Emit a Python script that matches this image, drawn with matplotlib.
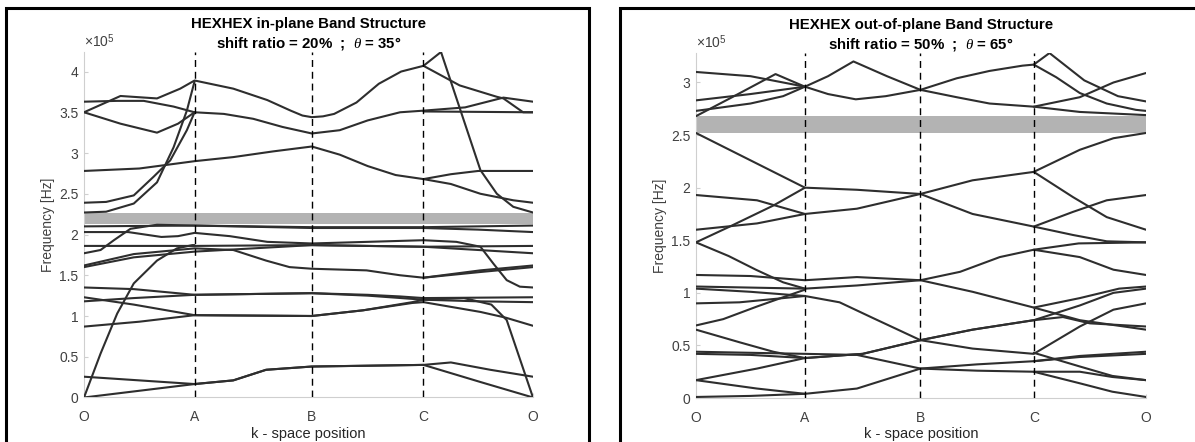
import numpy as np
import matplotlib.pyplot as plt
from matplotlib.patches import Rectangle

plt.rcParams['font.family'] = ['Liberation Sans', 'DejaVu Sans']
plt.rcParams['mathtext.fontset'] = 'custom'
plt.rcParams['mathtext.rm'] = 'Liberation Sans'
plt.rcParams['mathtext.it'] = 'Liberation Serif:italic'

# k-path: O -> A -> B -> C -> O  (tick positions along the path)
path_labels = ['O', 'A', 'B', 'C', 'O']
left_tick_k = [0, 1, 2.06, 3.07, 4.06]
right_tick_k = [0, 1, 2.06, 3.10, 4.13]

# band gaps (x 1e5 Hz)
left_gap = (2.13, 2.26)
right_gap = (2.52, 2.68)

# bands: (segment position 0..4, frequency x 1e5 Hz)
left_upper = [
    ([0, 0.33, 0.66, 0.87, 1.0, 1.33, 1.62, 1.82, 1.92, 2.0, 2.1, 2.2, 2.4, 2.6, 2.8, 3.0, 3.16, 3.52, 3.67, 3.82, 4.0],
     [3.50, 3.70, 3.67, 3.79, 3.89, 3.79, 3.65, 3.52, 3.46, 3.44, 3.45, 3.48, 3.62, 3.85, 4.00, 4.07, 4.24, 2.79, 2.50, 2.34, 2.27]),
    ([0, 0.33, 0.66, 0.85, 1.0, 1.25, 1.5, 1.75, 2.0, 2.25, 2.5, 2.79, 3.0, 3.38, 3.73, 4.0],
     [3.50, 3.36, 3.25, 3.36, 3.50, 3.48, 3.42, 3.32, 3.24, 3.28, 3.40, 3.50, 3.52, 3.56, 3.68, 3.63]),
    ([0, 0.3, 0.54, 0.81, 1.0], [3.63, 3.64, 3.64, 3.57, 3.50]),
    ([0, 0.5, 1.0, 1.33, 1.67, 2.0, 2.25, 2.5, 2.75, 3.0, 3.25, 3.5, 4.0],
     [2.78, 2.81, 2.90, 2.95, 3.02, 3.08, 2.98, 2.84, 2.73, 2.68, 2.74, 2.78, 2.78]),
    ([0, 0.2, 0.45, 0.63, 0.78, 0.93, 1.0], [2.39, 2.40, 2.48, 2.71, 2.91, 3.28, 3.50]),
    ([0, 0.2, 0.45, 0.66, 0.81, 0.93, 1.0], [2.27, 2.28, 2.38, 2.64, 3.07, 3.52, 3.88]),
    ([3.0, 3.33, 3.67, 3.73, 3.91, 4.0], [4.07, 3.83, 3.69, 3.67, 3.50, 3.50]),
    ([3.0, 3.25, 3.52, 3.82, 4.0], [2.68, 2.62, 2.50, 2.42, 2.39]),
    ([3.0, 4.0], [3.51, 3.50]),
]

left_lower = [
    ([0, 1, 2, 3, 4], [2.10, 2.11, 2.09, 2.09, 2.11]),
    ([0, 0.4, 0.7, 0.85, 1.0, 1.3, 1.62, 2.0, 2.5, 3.0, 3.3, 3.52, 3.64, 3.76, 3.88, 4.0],
     [2.03, 2.03, 1.97, 1.98, 2.02, 1.98, 1.91, 1.89, 1.91, 1.93, 1.91, 1.85, 1.64, 1.44, 1.36, 1.35]),
    ([0, 0.15, 0.27, 0.42, 0.66, 1.0, 2.0, 3.0, 3.5, 4.0],
     [1.77, 1.81, 1.93, 2.07, 2.12, 2.11, 2.08, 2.08, 2.06, 2.03]),
    ([0, 1, 2, 3, 4], [1.86, 1.86, 1.87, 1.85, 1.86]),
    ([0, 0.45, 1.0, 1.33, 1.61, 1.81, 2.0, 2.49, 2.79, 3.0, 3.52, 4.0],
     [1.62, 1.76, 1.83, 1.81, 1.68, 1.60, 1.58, 1.56, 1.50, 1.47, 1.56, 1.62]),
    ([0, 0.45, 1.0, 1.5, 2.0, 3.0, 3.5, 4.0], [1.60, 1.72, 1.79, 1.83, 1.87, 1.85, 1.81, 1.77]),
    ([3.0, 3.52, 4.0], [1.47, 1.54, 1.60]),
    ([0, 0.45, 1.0, 1.5, 2.0, 2.5, 2.79, 3.0, 4.0], [1.35, 1.33, 1.26, 1.27, 1.28, 1.26, 1.24, 1.22, 1.23]),
    ([0, 0.45, 1.0, 2.0, 2.5, 3.0, 3.5, 4.0], [1.18, 1.22, 1.26, 1.28, 1.25, 1.20, 1.18, 1.17]),
    ([0, 0.45, 1.0, 2.0, 2.46, 2.9, 3.0, 3.52, 3.75, 4.0],
     [1.23, 1.14, 1.01, 1.00, 1.07, 1.16, 1.17, 1.05, 0.98, 0.88]),
    ([0, 0.5, 1.0, 2.0, 2.46, 2.9, 3.0, 3.37, 3.62, 3.76, 4.0],
     [0.87, 0.93, 1.01, 1.00, 1.07, 1.17, 1.20, 1.22, 1.14, 0.95, 0.0]),
    ([0, 0.5, 1.0, 1.33, 1.61, 2.0, 2.5, 3.0, 3.25, 3.61, 4.0],
     [0.255, 0.21, 0.165, 0.21, 0.34, 0.38, 0.39, 0.40, 0.43, 0.34, 0.255]),
    ([0, 1.0, 1.33, 1.61, 2.0, 3.0, 3.52, 4.0], [0.0, 0.165, 0.21, 0.34, 0.38, 0.40, 0.19, 0.0]),
    ([0, 0.15, 0.30, 0.45, 0.66, 0.84, 0.98, 1.0], [0.0, 0.54, 1.03, 1.40, 1.68, 1.83, 1.87, 1.87]),
]

right_upper = [
    ([0, 0.5, 1.0, 1.2, 1.42, 1.71, 2.0, 2.32, 2.61, 2.9, 3.0, 3.14, 3.45, 3.75, 4.0],
     [3.10, 3.06, 2.96, 3.06, 3.20, 3.06, 2.93, 3.04, 3.11, 3.16, 3.17, 3.28, 3.02, 2.87, 2.82]),
    ([0, 0.5, 1.0, 1.2, 1.44, 1.7, 2.0, 2.32, 2.61, 3.0, 3.41, 3.71, 4.0],
     [2.83, 2.89, 2.96, 2.89, 2.84, 2.87, 2.93, 2.86, 2.80, 2.77, 2.86, 3.00, 3.09]),
    ([0, 0.35, 0.73, 1.0], [2.68, 2.87, 3.08, 2.96]),
    ([0, 0.5, 0.8, 1.0], [2.73, 2.80, 2.87, 2.96]),
    ([3.0, 3.2, 3.41, 3.65, 3.91, 4.0], [3.17, 3.05, 2.90, 2.80, 2.74, 2.73]),
    ([3.0, 3.41, 4.0], [2.77, 2.72, 2.69]),
]

right_lower = [
    ([0, 0.5, 1.0, 1.45, 2.0, 2.46, 3.0, 3.41, 3.71, 4.0],
     [2.52, 2.26, 2.00, 1.98, 1.94, 2.07, 2.15, 2.36, 2.47, 2.52]),
    ([0, 0.56, 1.0, 1.45, 2.0, 2.46, 3.0, 3.35, 3.65, 4.0],
     [1.93, 1.88, 1.75, 1.80, 1.94, 1.75, 1.63, 1.55, 1.49, 1.48]),
    ([0, 0.31, 0.71, 1.0], [1.48, 1.63, 1.83, 2.00]),
    ([0, 0.56, 1.0], [1.60, 1.66, 1.75]),
    ([0, 0.3, 0.55, 0.8, 1.0, 1.45, 2.0, 2.35, 2.7, 3.0, 3.4, 4.0],
     [1.48, 1.35, 1.22, 1.10, 1.04, 1.07, 1.12, 1.20, 1.34, 1.41, 1.47, 1.48]),
    ([0, 0.5, 1.0, 1.45, 2.0, 2.46, 3.0, 3.41, 3.76, 4.0],
     [1.17, 1.16, 1.12, 1.15, 1.12, 1.01, 0.86, 0.95, 1.04, 1.06]),
    ([0, 0.5, 1.0, 1.3, 1.59, 2.0, 2.46, 3.0, 3.41, 3.71, 4.0],
     [1.04, 1.01, 0.97, 0.91, 0.76, 0.55, 0.65, 0.74, 0.88, 1.00, 1.04]),
    ([0, 0.5, 1.0], [1.06, 1.05, 1.04]),
    ([0, 0.4, 0.8, 1.0], [0.90, 0.91, 0.95, 0.97]),
    ([0, 0.25, 0.56, 0.86, 1.0], [0.69, 0.75, 0.87, 0.98, 1.03]),
    ([0, 0.4, 0.71, 1.0, 1.5, 2.0, 2.46, 3.0, 3.41, 3.71, 4.0],
     [0.65, 0.53, 0.44, 0.38, 0.42, 0.55, 0.47, 0.42, 0.68, 0.84, 0.90]),
    ([0, 0.5, 1.0, 1.45, 2.0, 2.5, 3.0, 3.41, 4.0], [0.44, 0.43, 0.42, 0.41, 0.28, 0.32, 0.35, 0.40, 0.44]),
    ([0, 0.5, 1.0], [0.42, 0.41, 0.38]),
    ([0, 0.56, 1.0, 1.5, 2.0, 2.46, 3.0, 3.26, 3.5, 4.0],
     [0.17, 0.28, 0.38, 0.42, 0.55, 0.65, 0.74, 0.77, 0.71, 0.68]),
    ([0, 0.56, 1.0, 1.45, 2.0, 2.5, 3.0, 3.41, 3.7, 4.0],
     [0.17, 0.09, 0.04, 0.09, 0.28, 0.26, 0.25, 0.25, 0.20, 0.17]),
    ([0, 0.5, 1.0], [0.01, 0.02, 0.04]),
    ([3.0, 3.35, 3.65, 4.0], [2.15, 1.91, 1.72, 1.60]),
    ([3.0, 3.35, 3.65, 4.0], [1.63, 1.77, 1.88, 1.93]),
    ([3.0, 3.41, 3.71, 4.0], [1.41, 1.34, 1.22, 1.17]),
    ([3.0, 3.41, 4.0], [0.86, 0.74, 0.65]),
    ([3.0, 3.41, 4.0], [0.35, 0.39, 0.42]),
    ([3.0, 3.41, 3.7, 4.0], [0.43, 0.30, 0.21, 0.17]),
    ([3.0, 3.41, 3.7, 4.0], [0.25, 0.14, 0.06, 0.01]),
]

left_yticks = [0, 0.5, 1, 1.5, 2, 2.5, 3, 3.5, 4]
right_yticks = [0, 0.5, 1, 1.5, 2, 2.5, 3]
left_title = 'HEXHEX in-plane Band Structure\nshift ratio = 20%  ;  $\\theta$ = 35°'
right_title = 'HEXHEX out-of-plane Band Structure\nshift ratio = 50%  ;  $\\theta$ = 65°'


def draw_panel(ax, tick_k, bands, gap, ymax, yticks, title):
    seg = np.arange(len(tick_k))
    ax.axhspan(gap[0], gap[1], color='#b3b3b3', lw=0, zorder=1)
    for s, f in bands:
        ax.plot(np.interp(s, seg, tick_k), f, color='#2e2e2e', lw=1.5,
                solid_joinstyle='round', solid_capstyle='round', zorder=3)
    for k in tick_k[1:-1]:
        ax.axvline(k, color='black', lw=1.0, ls=(0, (5, 3.5)), zorder=4)
    ax.set_xlim(tick_k[0], tick_k[-1])
    ax.set_ylim(0, ymax)
    ax.set_xticks(tick_k)
    ax.set_xticklabels(path_labels)
    ax.set_yticks(yticks)
    ax.set_yticklabels([('%g' % v) for v in yticks])
    for side in ['top', 'right']:
        ax.spines[side].set_visible(False)
    for side in ['left', 'bottom']:
        ax.spines[side].set_color('#cfcfcf')
        ax.spines[side].set_linewidth(0.8)
    ax.tick_params(axis='both', direction='in', length=3, color='#cfcfcf',
                   labelcolor='#404040', labelsize=10)
    ax.tick_params(axis='x', pad=9)
    ax.tick_params(axis='y', pad=4)
    ax.set_xlabel('k - space position', fontsize=10.5, color='#262626', labelpad=2)
    ax.set_ylabel('Frequency [Hz]', fontsize=10, color='#404040', labelpad=3)
    ax.set_title(title, fontsize=10.8, fontweight='bold', pad=3, linespacing=1.3)
    ax.annotate(r'$\times10^5$', xy=(0, 1), xycoords='axes fraction',
                xytext=(0, 1.5), textcoords='offset points',
                ha='left', va='bottom', fontsize=10, color='#404040')


fig = plt.figure(figsize=(11.95, 4.42), dpi=100)
ax_l = fig.add_axes([0.0703, 0.1007, 0.3757, 0.7817])
ax_r = fig.add_axes([0.5824, 0.0995, 0.3766, 0.7805])

draw_panel(ax_l, left_tick_k, left_upper + left_lower, left_gap, 4.24, left_yticks, left_title)
draw_panel(ax_r, right_tick_k, right_upper + right_lower, right_gap, 3.28, right_yticks, right_title)

# figure frames around each panel
fig.patches.append(Rectangle((5.5 / 1195, -0.05), (589 - 5.5) / 1195, 0.982 + 0.05,
                             transform=fig.transFigure, fill=False, lw=2.2, ec='black'))
fig.patches.append(Rectangle((620 / 1195, -0.05), 0.6, 0.982 + 0.05,
                             transform=fig.transFigure, fill=False, lw=2.2, ec='black'))

fig.savefig('out.png', dpi=100)
